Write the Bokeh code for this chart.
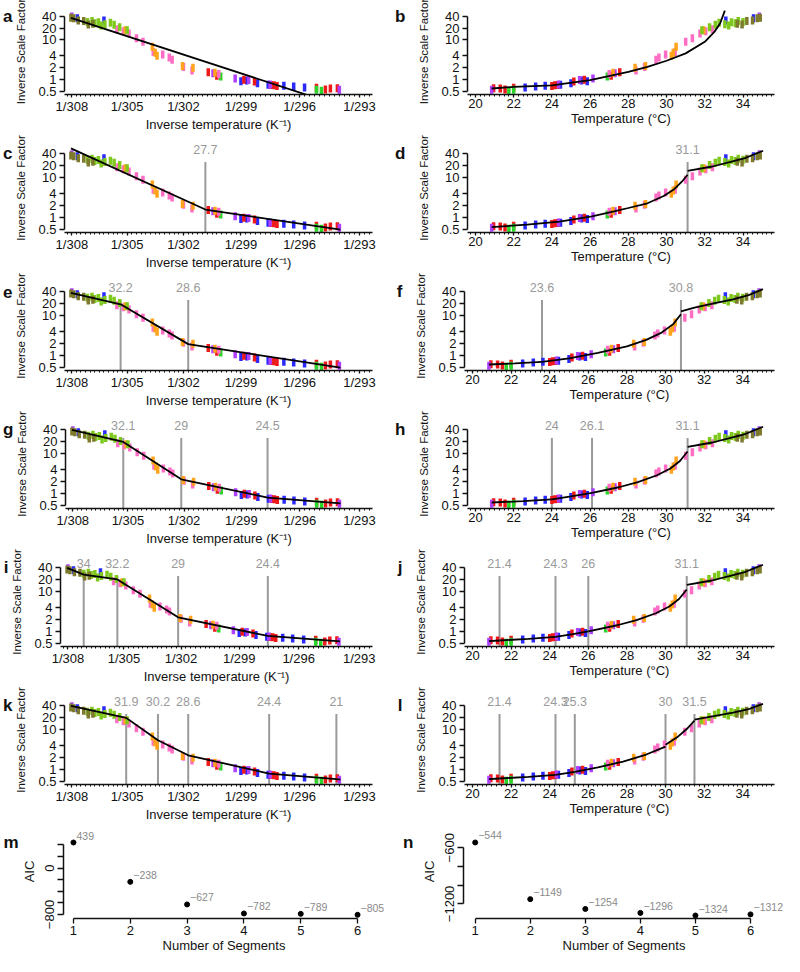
import math
from bokeh.plotting import figure
from bokeh.models import (Range1d, FixedTicker, ColumnDataSource, LabelSet,
                          CustomJSTickFormatter, LogAxis, LinearAxis)
from bokeh.layouts import column, row
from bokeh.embed import file_html
from bokeh.resources import INLINE
from bokeh.core.properties import value

FONT = "Liberation Sans"
GRAY = "#9a9a9a"
INK = "#111111"

# ---------------- measured clusters: temperature (°C) and inverse scale factor ----
blue_temp = [22.6, 23.15, 23.65, 24.45, 25.0, 25.55, 25.85, 33.1, 34.55]
blue_isf = [0.64, 0.67, 0.70, 0.75, 0.82, 0.95, 0.92, 31.0, 35.0]
red_temp = [20.95, 21.3, 21.55, 22.0, 24.0, 24.15, 24.3, 25.15, 25.7, 27.1, 27.55]
red_isf = [0.61, 0.60, 0.57, 0.63, 0.69, 0.72, 0.74, 0.90, 1.00, 1.25, 1.55]
green_temp = [21.75, 22.0, 26.9]
green_isf = [0.53, 0.56, 1.2]
purple_temp = [20.85, 24.35, 25.45, 26.15, 27.3, 34.85]
purple_isf = [0.56, 0.76, 0.98, 1.08, 1.45, 39.0]
pink_temp = [27.0, 28.4, 28.85, 29.45, 29.6, 29.95, 30.45, 31.0, 31.35, 31.75, 32.05, 32.4]
pink_isf = [1.4, 1.7, 2.1, 3.2, 3.6, 4.3, 5.0, 9.0, 11.0, 14.5, 16.5, 18.5]
orange_temp = [27.2, 28.35, 28.9, 30.25, 30.35, 30.5, 31.95]
orange_isf = [1.5, 2.0, 2.2, 4.0, 4.8, 6.8, 17.5]
ygreen_temp = [31.85, 32.25, 32.55, 32.75, 33.05, 33.25, 33.4, 33.6, 33.75, 34.0]
ygreen_isf = [17.5, 21.0, 24.0, 27.0, 25.0, 23.0, 28.0, 26.5, 30.0, 28.5]
olive_temp = [33.7, 33.95, 34.2, 34.5, 34.75, 34.9]
olive_isf = [25.5, 24.5, 30.0, 31.0, 35.0, 36.5]

groups = [
    (blue_temp, blue_isf, "#2a2aff"),
    (red_temp, red_isf, "#ee1a1a"),
    (green_temp, green_isf, "#2ad62a"),
    (purple_temp, purple_isf, "#b040ff"),
    (pink_temp, pink_isf, "#ff6ec4"),
    (orange_temp, orange_isf, "#ffa41c"),
    (ygreen_temp, ygreen_isf, "#7fc81e"),
    (olive_temp, olive_isf, "#7d7a2c"),
]

# ---------------- Arrhenius (inverse temperature) fits: vertices -----------------
fit_a_temp = [34.9, 20.8]
fit_a_isf = [36.0, 0.22]
fit_c_temp = [34.9, 27.7, 20.8]
fit_c_isf = [55.0, 1.6, 0.5]
fit_e_temp = [34.9, 32.2, 28.6, 20.8]
fit_e_isf = [38.0, 19.5, 1.95, 0.5]
fit_g_temp = [34.9, 32.1, 29.0, 24.5, 20.8]
fit_g_isf = [40.0, 20.0, 2.3, 0.8, 0.57]
fit_i_temp = [34.9, 34.0, 32.2, 29.0, 24.4, 20.8]
fit_i_isf = [40.0, 27.0, 20.5, 2.3, 0.78, 0.57]
fit_k_temp = [34.9, 31.9, 30.2, 28.6, 24.4, 21.0, 20.8]
fit_k_isf = [40.0, 20.0, 5.5, 2.3, 0.8, 0.58, 0.57]

# breakpoints (°C)
brk_c = [27.7]
brk_e = [32.2, 28.6]
brk_g = [32.1, 29, 24.5]
brk_i = [34, 32.2, 29, 24.4]
brk_k = [31.9, 30.2, 28.6, 24.4, 21]
brk_d = [31.1]
brk_f = [23.6, 30.8]
brk_h = [24, 26.1, 31.1]
brk_j = [21.4, 24.3, 26, 31.1]
brk_l = [21.4, 24.3, 25.3, 30, 31.5]

fit_b_temp = [[20.85, 22, 24, 26, 28, 29, 30, 31, 32, 32.5, 32.8, 33.05]]
fit_b_isf = [[0.6, 0.66, 0.72, 0.98, 1.57, 2.1, 3.0, 4.6, 9.0, 16, 26, 55]]
fit_d_temp = [[20.85, 22.7, 24.4, 26.1, 27.25, 28.0, 29.0, 29.85, 30.4, 30.8, 31.1],
              [31.1, 32.4, 33.3, 34.15, 35.05]]
fit_d_isf = [[0.58, 0.67, 0.8, 1.08, 1.43, 1.75, 2.3, 3.5, 5.2, 8.0, 12.0],
             [15, 19.3, 25, 32, 48]]
fit_f_temp = [[20.85, 22.2, 23.6],
              [23.6, 25, 26.5, 28, 29, 29.8, 30.4, 30.8],
              [30.8, 31.5, 32.5, 33.5, 34.3, 35.05]]
fit_f_isf = [[0.6, 0.64, 0.7],
             [0.7, 0.86, 1.18, 1.72, 2.5, 3.8, 6.2, 11],
             [13, 16, 20.5, 26, 33, 47]]
fit_h_temp = [[20.85, 22.5, 24.0], [24.0, 25, 26.1],
              [26.1, 27.5, 28.5, 29.5, 30.2, 30.7, 31.1],
              [31.1, 32.4, 33.3, 34.15, 35.05]]
fit_h_isf = [[0.6, 0.65, 0.72], [0.72, 0.86, 1.05],
             [1.05, 1.45, 1.95, 2.9, 4.3, 6.6, 11.5],
             [15, 19.3, 25, 32, 48]]
fit_j_temp = [[20.85, 21.4], [21.4, 22.9, 24.3], [24.3, 25.2, 26.0],
              [26.0, 27.5, 28.5, 29.5, 30.2, 30.7, 31.1],
              [31.1, 32.4, 33.3, 34.15, 35.05]]
fit_j_isf = [[0.58, 0.6], [0.6, 0.66, 0.74], [0.74, 0.87, 1.02],
             [1.02, 1.45, 1.95, 2.9, 4.3, 6.6, 11.5],
             [15, 19.3, 25, 32, 48]]
fit_l_temp = [[20.85, 21.4], [21.4, 22.9, 24.3], [24.3, 25.3],
              [25.3, 26.5, 27.8, 29.0, 30.0], [30.0, 30.6, 31.1, 31.5],
              [31.5, 32.5, 33.5, 34.3, 35.05]]
fit_l_isf = [[0.58, 0.6], [0.6, 0.66, 0.74], [0.74, 0.88],
             [0.88, 1.15, 1.6, 2.4, 3.8], [4.2, 6.5, 10.5, 17],
             [18, 22, 27, 33, 45]]

# ---------------- AIC -----------------------------------------------------------
segments = [1, 2, 3, 4, 5, 6]
aic_inverse = [439, -238, -627, -782, -789, -805]
aic_temperature = [-544, -1149, -1254, -1296, -1324, -1312]

y_ticks = [0.5, 1, 2, 4, 10, 20, 40]
inv_tick_kelvin = [308, 305, 302, 299, 296, 293]
temp_ticks = [20, 22, 24, 26, 28, 30, 32, 34]


def inv(ts):
    return [1.0 / (t + 273.15) for t in ts]


def style_axis(ax, tick_out=4):
    ax.axis_line_color = INK
    ax.axis_line_width = 1.5
    ax.major_tick_line_color = INK
    ax.major_tick_line_width = 1.3
    ax.major_tick_in = 0
    ax.major_tick_out = tick_out
    ax.minor_tick_line_color = INK
    ax.minor_tick_in = 0
    ax.minor_tick_out = 2
    ax.major_label_text_font = FONT
    ax.major_label_text_font_size = "13px"
    ax.major_label_text_color = INK
    ax.axis_label_text_font = FONT
    ax.axis_label_text_font_size = "13px"
    ax.axis_label_text_font_style = "normal"
    ax.axis_label_text_color = INK


def make_fig(height, frame_h, bl, br, xr, yr, log=True, bt=0):
    p = figure(width=392, height=height, x_range=xr, y_range=yr,
               y_axis_type="log" if log else "linear",
               output_backend="svg", toolbar_location=None,
               min_border_left=bl, min_border_right=br,
               min_border_top=bt, min_border_bottom=height - frame_h - bt)
    p.outline_line_color = None
    p.xgrid.visible = False
    p.ygrid.visible = False
    p.background_fill_color = "white"
    p.border_fill_color = "white"
    return p


def letter_axis(p, text, at, standoff, log=True):
    """Panel letter drawn as the single tick label of an extra, invisible left axis."""
    cls = LogAxis if log else LinearAxis
    ax = cls(ticker=FixedTicker(ticks=[at]),
             formatter=CustomJSTickFormatter(args=dict(t=text), code="return t;"))
    ax.axis_line_color = None
    ax.major_tick_line_color = None
    ax.minor_tick_line_color = None
    ax.major_tick_out = 0
    ax.major_tick_in = 0
    ax.major_label_standoff = standoff
    ax.major_label_text_font = FONT
    ax.major_label_text_font_size = "17px"
    ax.major_label_text_font_style = "bold"
    ax.major_label_text_color = INK
    p.add_layout(ax, "left")


def log_y(p):
    ax = p.yaxis[0]
    style_axis(ax, 5)
    ax.ticker = FixedTicker(ticks=y_ticks)
    ax.formatter = CustomJSTickFormatter(code="return String(tick);")
    ax.bounds = (0.5, 40)
    ax.axis_label = "Inverse Scale Factor"
    ax.axis_label_text_font_size = "11.5px"
    ax.major_label_standoff = 3
    ax.axis_label_standoff = 8


def points(p, left):
    xs, ys, cs = [], [], []
    for t, v, c in groups:
        xs += inv(t) if left else list(t)
        ys += list(v)
        cs += [c] * len(t)
    src = ColumnDataSource(dict(x=xs, y=ys, c=cs))
    p.rect("x", "y", width=3.5, height=8, width_units="screen", height_units="screen",
           fill_color="c", line_color=None, source=src)


def breaks(p, brk, left):
    if not brk:
        return
    bx = inv(brk) if left else list(brk)
    p.segment(x0=bx, y0=[0.4] * len(bx), x1=bx, y1=[25] * len(bx),
              line_color=GRAY, line_width=2)
    src = ColumnDataSource(dict(x=bx, y=[52.6] * len(bx), t=[f"{b:g}" for b in brk]))
    p.add_layout(LabelSet(x="x", y="y", text="t", source=src, text_align="center",
                          text_baseline="middle", text_font=value(FONT),
                          text_font_size="12.5px", text_color=GRAY))


def x_axis_common(ax):
    style_axis(ax, 3)
    ax.major_label_standoff = 1
    ax.axis_label_standoff = 0


def dims(first):
    # height, frame height, top border, top value of the log range
    return (134, 91, 8, 62.0) if first else (138, 94, 9, 73.0)


def left_panel(lab, fit_t, fit_v, brk, first=False):
    h, fh, bt, top = dims(first)
    p = make_fig(h, fh, 60, 20, Range1d(0.0032425, 0.0034205), Range1d(0.4242, top), bt=bt)
    log_y(p)
    ax = p.xaxis[0]
    x_axis_common(ax)
    ax.ticker = FixedTicker(ticks=[1.0 / k for k in inv_tick_kelvin],
                            minor_ticks=[1.0 / (k / 4.0) for k in range(4 * 291, 4 * 310)])
    ax.formatter = CustomJSTickFormatter(code="return '1/' + Math.round(1/tick);")
    ax.axis_label = "Inverse temperature (K\u207b\u00b9)"
    letter_axis(p, lab, 40, 0)
    breaks(p, brk, True)
    points(p, True)
    p.line(inv(fit_t), fit_v, line_color="black", line_width=1.8)
    return p


def right_panel(lab, fit_t, fit_v, brk, first=False):
    h, fh, bt, top = dims(first)
    p = make_fig(h, fh, 72, 10, Range1d(19.585, 35.647), Range1d(0.4242, top), bt=bt)
    log_y(p)
    ax = p.xaxis[0]
    x_axis_common(ax)
    ax.ticker = FixedTicker(ticks=temp_ticks,
                            minor_ticks=[19.5 + 0.25 * i for i in range(66)])
    ax.axis_label = "Temperature (\u00b0C)"
    letter_axis(p, lab, 40, 10)
    breaks(p, brk, False)
    points(p, False)
    p.multi_line(xs=fit_t, ys=fit_v, line_color="black", line_width=1.8)
    return p


def aic_panel(lab, aic, xr, yr, bl, br, ticks, shown, lstand):
    p = make_fig(132, 94, bl, br, xr, yr, log=False, bt=0)
    ax = p.xaxis[0]
    style_axis(ax, 5)
    ax.ticker = FixedTicker(ticks=segments)
    ax.bounds = (1, 6)
    ax.axis_label = "Number of Segments"
    ax.major_label_standoff = 2
    ax.axis_label_standoff = 0
    ay = p.yaxis[0]
    style_axis(ay, 6)
    ay.ticker = FixedTicker(ticks=ticks)
    ay.bounds = (min(ticks), max(ticks))
    ay.formatter = CustomJSTickFormatter(
        args=dict(show=shown),
        code="return show.indexOf(tick) >= 0 ? String(tick).replace('-', '\u2212') : '';")
    ay.major_label_orientation = "vertical"
    ay.axis_label = "AIC"
    ay.major_label_standoff = 3
    ay.axis_label_standoff = 6
    letter_axis(p, lab, aic[0], lstand, log=False)
    p.scatter(segments, aic, size=5, color="black")
    src = ColumnDataSource(dict(x=segments, y=aic,
                                t=[str(a).replace("-", "\u2212") for a in aic]))
    p.add_layout(LabelSet(x="x", y="y", text="t", source=src, x_offset=3, y_offset=3,
                          text_align="left", text_baseline="bottom",
                          text_font=value(FONT), text_font_size="10.5px",
                          text_color="#8a8a8a"))
    return p


rows = [
    row(left_panel("a", fit_a_temp, fit_a_isf, [], True),
        right_panel("b", fit_b_temp, fit_b_isf, [], True)),
    row(left_panel("c", fit_c_temp, fit_c_isf, brk_c),
        right_panel("d", fit_d_temp, fit_d_isf, brk_d)),
    row(left_panel("e", fit_e_temp, fit_e_isf, brk_e),
        right_panel("f", fit_f_temp, fit_f_isf, brk_f)),
    row(left_panel("g", fit_g_temp, fit_g_isf, brk_g),
        right_panel("h", fit_h_temp, fit_h_isf, brk_h)),
    row(left_panel("i", fit_i_temp, fit_i_isf, brk_i),
        right_panel("j", fit_j_temp, fit_j_isf, brk_j)),
    row(left_panel("k", fit_k_temp, fit_k_isf, brk_k),
        right_panel("l", fit_l_temp, fit_l_isf, brk_l)),
    row(aic_panel("m", aic_inverse, Range1d(0.8246, 6.474), Range1d(-868.8, 749.0), 62, 8,
                  [400, 200, 0, -200, -400, -600, -800], [0, -800], 0),
        aic_panel("n", aic_temperature, Range1d(0.7875, 6.6175), Range1d(-1356, -351.7), 71, 0,
                  [-600, -800, -1000, -1200], [-600, -1200], 5)),
]

layout = column(*rows)
open("out.html", "w").write(file_html(layout, INLINE, title="Inverse scale factor fits"))
